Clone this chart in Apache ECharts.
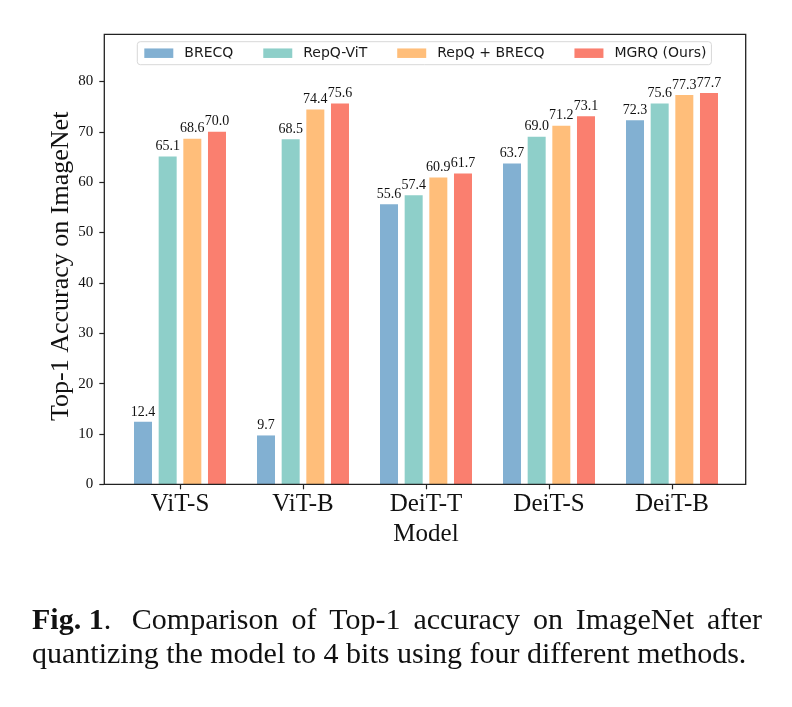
<!DOCTYPE html>
<html>
<head>
<meta charset="utf-8">
<script src="https://cdn.jsdelivr.net/npm/echarts@6/dist/echarts.min.js"></script>
<style>
  html, body { margin: 0; padding: 0; background: #fff; }
  #main { width: 792px; height: 707px; }
</style>
</head>
<body>
<div id="main"></div>
<script>
var models = ['ViT-S', 'ViT-B', 'DeiT-T', 'DeiT-S', 'DeiT-B'];
var brecq = [12.4, 9.7, 55.6, 63.7, 72.3];
var repqVit = [65.1, 68.5, 57.4, 69.0, 75.6];
var repqBrecq = [68.6, 74.4, 60.9, 71.2, 77.3];
var mgrq = [70.0, 75.6, 61.7, 73.1, 77.7];
var yTicks = [0, 10, 20, 30, 40, 50, 60, 70, 80];

var seriesNames = ['BRECQ', 'RepQ-ViT', 'RepQ + BRECQ', 'MGRQ (Ours)'];
var seriesData = [brecq, repqVit, repqBrecq, mgrq];
var colors = ['#82B0D2', '#8ECFC9', '#FFBE7A', '#FA7F6F'];

var serif = '"Liberation Serif", "Times New Roman", serif';
var sans = '"DejaVu Sans", sans-serif';

var chart = echarts.init(document.getElementById('main'));

// caption, first line justified like the paper
var capSize = 30;
var ctx = document.createElement('canvas').getContext('2d');
function textW(t, bold) {
    ctx.font = (bold ? 'bold ' : '') + capSize + 'px "Liberation Serif"';
    return ctx.measureText(t).width;
}
var captionX0 = 32, captionX1 = 762;
var line1 = [
    {t: 'Fig. 1', b: true, glue: true},
    {t: '.', b: false},
    {t: 'Comparison'}, {t: 'of'}, {t: 'Top-1'}, {t: 'accuracy'},
    {t: 'on'}, {t: 'ImageNet'}, {t: 'after'}
];
var graphics = [];
var total = 0;
line1.forEach(function (w) { w.w = textW(w.t, w.b); total += w.w; });
// 6 normal gaps + one wider gap after "Fig. 1."
var gap = (captionX1 - captionX0 - total) / (6 + 1.6);
var x = captionX0;
line1.forEach(function (w, i) {
    graphics.push({
        type: 'text', x: x, y: 621,
        style: {
            text: w.t, fill: '#111', fontFamily: serif, fontSize: capSize,
            fontWeight: w.b ? 'bold' : 'normal', verticalAlign: 'middle'
        }
    });
    x += w.w;
    if (!w.glue) x += (i === 1 ? gap * 1.6 : gap);
});
graphics.push({
    type: 'text', x: captionX0, y: 655,
    style: {
        text: 'quantizing the model to 4 bits using four different methods.',
        fill: '#111', fontFamily: serif, fontSize: capSize, verticalAlign: 'middle'
    }
});
// plot frame
graphics.push({
    type: 'rect', z: 10,
    shape: {x: 104.3, y: 34.3, width: 641.4, height: 450},
    style: {fill: 'none', stroke: '#222', lineWidth: 1.3}
});

var option = {
    backgroundColor: '#fff',
    animation: false,
    color: colors,
    grid: {left: 118.5, right: 58.5, top: 34.3, bottom: 222.7},
    legend: {
        data: seriesNames,
        left: 137.3, top: 41.7,
        itemWidth: 29, itemHeight: 9.5, itemGap: 30,
        icon: 'rect',
        padding: [4.5, 5, 4.5, 7],
        borderColor: '#d8d8d8', borderWidth: 1, borderRadius: 3,
        backgroundColor: '#fff',
        textStyle: {fontFamily: sans, fontSize: 14, color: '#1a1a1a', lineHeight: 14, padding: [0, 0, 0, 6]}
    },
    xAxis: {
        type: 'category',
        data: models,
        name: 'Model',
        nameLocation: 'middle',
        nameGap: 38,
        nameTextStyle: {fontFamily: serif, fontSize: 25, color: '#111'},
        axisLine: {show: false},
        axisTick: {show: true, alignWithLabel: true, length: 5, lineStyle: {color: '#222', width: 1.2}},
        axisLabel: {fontFamily: serif, fontSize: 25, color: '#111', margin: 8}
    },
    yAxis: {
        type: 'value',
        min: 0, max: 89.355, interval: 10,
        offset: 14.2,
        name: 'Top-1 Accuracy on ImageNet',
        nameLocation: 'middle',
        nameRotate: 90,
        nameGap: 30,
        nameMoveOverlap: false,
        nameTextStyle: {fontFamily: serif, fontSize: 26, color: '#111', padding: [0, 14, 0, 0]},
        splitLine: {show: false},
        axisLine: {show: false},
        axisTick: {show: true, length: 5, customValues: yTicks, lineStyle: {color: '#222', width: 1.2}},
        axisLabel: {fontFamily: serif, fontSize: 15, color: '#111', margin: 11, customValues: yTicks}
    },
    series: seriesNames.map(function (name, i) {
        return {
            name: name,
            type: 'bar',
            data: seriesData[i],
            barWidth: 18,
            barGap: '37%',
            itemStyle: {color: colors[i]},
            label: {
                show: true, position: 'top', distance: 3,
                fontFamily: serif, fontSize: 14, color: '#111',
                formatter: function (p) { return p.value.toFixed(1); }
            }
        };
    }),
    graphic: graphics
};
chart.setOption(option);
</script>
</body>
</html>
